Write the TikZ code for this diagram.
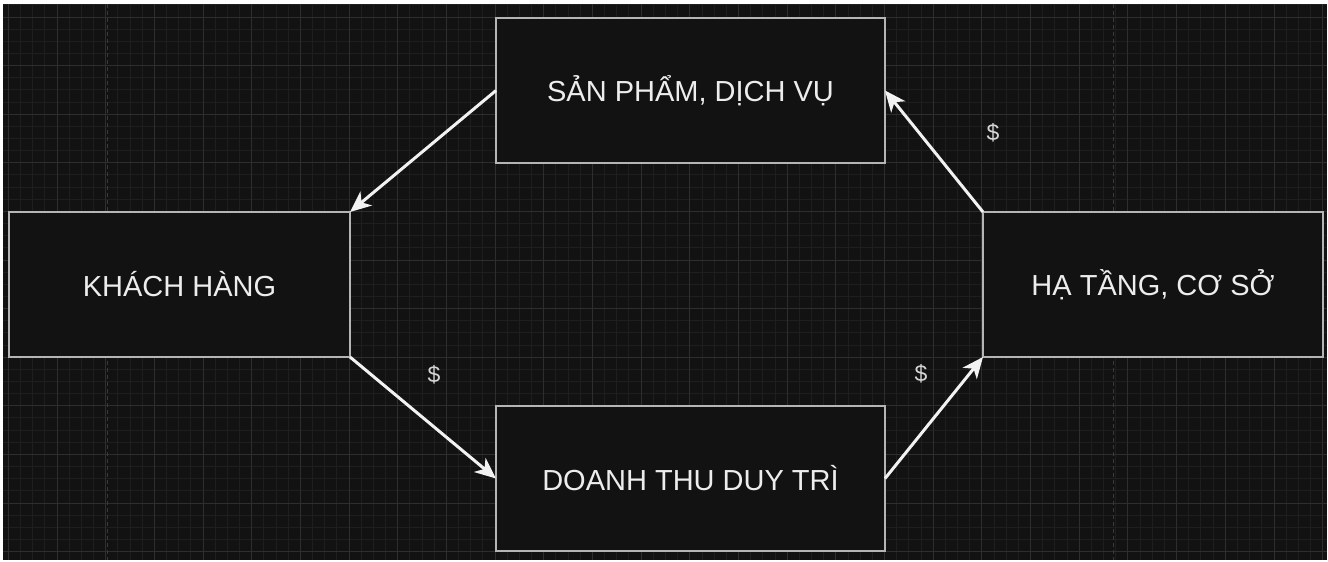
\documentclass[tikz,border=0pt]{standalone}
\usepackage{fontspec}
\setmainfont{Liberation Sans}
\usetikzlibrary{arrows.meta}
\definecolor{bgdark}{HTML}{121212}
\definecolor{gridminor}{HTML}{1E1E1E}
\definecolor{gridmajor}{HTML}{2E2E2E}
\definecolor{pageline}{HTML}{3A3A3A}
\definecolor{boxline}{HTML}{B5B5B5}
\definecolor{txt}{HTML}{EDEDED}
\definecolor{arrowc}{HTML}{F2F2F2}
\begin{document}
\begin{tikzpicture}[x=1pt,y=-1pt,
  boxnode/.style={draw=boxline, line width=1.5pt, fill=bgdark, rectangle, inner sep=0pt, outer sep=0pt,
    minimum height=145pt, text=txt, font=\fontsize{29}{34}\selectfont},
  flow/.style={draw=arrowc, line width=3pt, -{Stealth[length=21pt,width=18pt,inset=6pt]}},
  dollar/.style={text=txt!90!black, font=\fontsize{23}{26}\selectfont, inner sep=0pt},
  minorline/.style={draw=gridminor, line width=1pt},
  majorline/.style={draw=gridmajor, line width=1pt},
  pagebreak/.style={draw=pageline, line width=1pt, dash pattern=on 4pt off 3pt}]
\useasboundingbox (0,0) rectangle (1328,562);
\fill[white] (0,0) rectangle (1328,562);
\fill[bgdark] (3,4) rectangle (1327,560);
\begin{scope}
\clip (3,4) rectangle (1327,560);
% minor grid
\foreach \i in {-5,...,110} {
  \draw[minorline] ({57+12.17*\i},4) -- ({57+12.17*\i},560);
}
\foreach \j in {-2,...,46} {
  \draw[minorline] (3,{17+12.15*\j}) -- (1327,{17+12.15*\j});
}
% major grid
\foreach \i in {-1,...,27} {
  \draw[majorline] ({57+48.68*\i},4) -- ({57+48.68*\i},560);
}
\foreach \j in {-1,...,12} {
  \draw[majorline] (3,{17+48.6*\j}) -- (1327,{17+48.6*\j});
}
% page breaks
\draw[pagebreak] (107,4) -- (107,560);
\draw[pagebreak] (1113,4) -- (1113,560);
\end{scope}

\node[boxnode, minimum width=341pt] (kh) at (179.5,284.5) {KHÁCH HÀNG};
\node[boxnode, minimum width=389pt] (sp) at (690.5,90.5) {SẢN PHẨM, DỊCH VỤ};
\node[boxnode, minimum width=389pt] (dt) at (690.5,478.5) {DOANH THU DUY TRÌ};
\node[boxnode, minimum width=340pt] (ht) at (1153,284.5) {HẠ TẦNG, CƠ SỞ};

\draw[flow] (sp.west) -- (kh.north east);
\draw[flow] (kh.south east) -- (dt.west);
\draw[flow] (dt.east) -- (ht.south west);
\draw[flow] (ht.north west) -- (sp.east);

\node[dollar] (d1) at (993,133) {\$};
\node[dollar] (d2) at (434,375) {\$};
\node[dollar] (d3) at (921,374) {\$};
\end{tikzpicture}
\end{document}
